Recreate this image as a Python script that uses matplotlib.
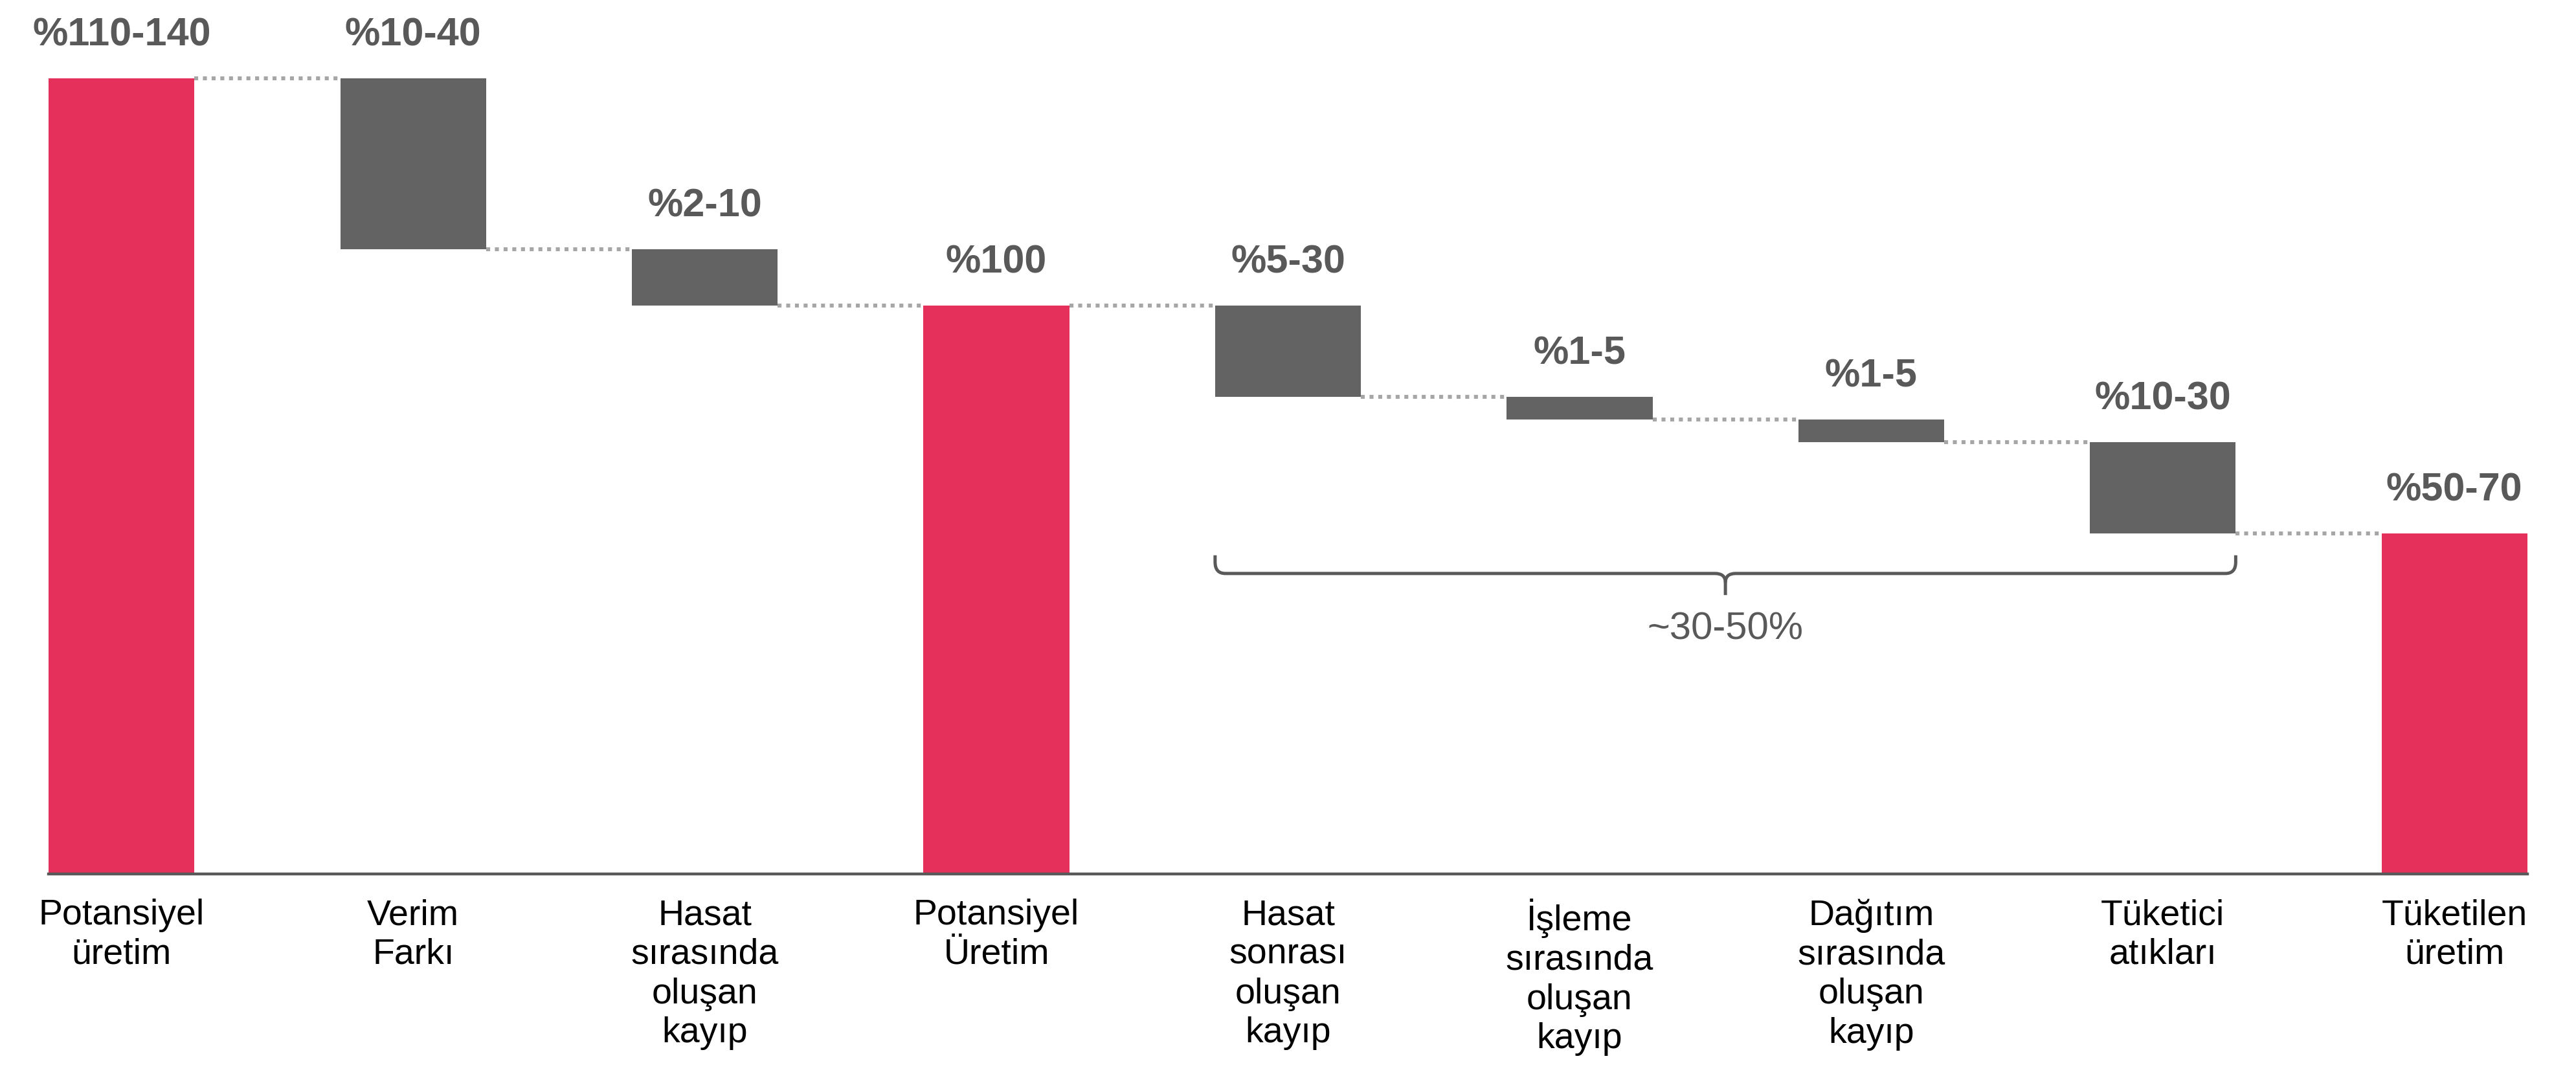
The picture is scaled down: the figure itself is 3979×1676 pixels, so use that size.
import matplotlib
matplotlib.use("Agg")
import matplotlib.pyplot as plt
from matplotlib.path import Path
from matplotlib.patches import PathPatch

plt.rcParams["font.family"] = ["Liberation Sans", "DejaVu Sans"]

RED = "#E5305C"
GRAY_BAR = "#636363"
TEXT_GRAY = "#595959"
DOT_GRAY = "#A6A6A6"

categories = [
    "Potansiyel\nüretim",
    "Verim\nFarkı",
    "Hasat\nsırasında\noluşan\nkayıp",
    "Potansiyel\nÜretim",
    "Hasat\nsonrası\noluşan\nkayıp",
    "İşleme\nsırasında\noluşan\nkayıp",
    "Dağıtım\nsırasında\noluşan\nkayıp",
    "Tüketici\natıkları",
    "Tüketilen\nüretim",
]
changes = [140, -30, -10, 100, -16, -4, -4, -16, 60]
is_total = [True, False, False, True, False, False, False, False, True]
value_labels = ["%110-140", "%10-40", "%2-10", "%100", "%5-30", "%1-5", "%1-5", "%10-30", "%50-70"]
brace_label = "~30-50%"
brace_span = (4, 7)  # first and last bar covered by the brace

fig = plt.figure(figsize=(19.895, 8.38), dpi=200)
ax = fig.add_axes([0, 0, 1, 1])
ax.set_xlim(-0.417, 8.417)
ax.set_ylim(-37.1, 153.8)
ax.axis("off")

width = 0.5
running = 0
levels = []
for i, (val, total) in enumerate(zip(changes, is_total)):
    if total:
        bottom, height = 0, val
        running = val
        color = RED
    else:
        bottom, height = running + val, -val
        running += val
        color = GRAY_BAR
    top = bottom + height
    ax.bar(i, height, bottom=bottom, width=width, color=color, edgecolor="none", zorder=2)
    ax.text(i, top + 7.5, value_labels[i], ha="center", va="center",
            fontsize=22, fontweight="bold", color=TEXT_GRAY)
    ax.text(i, -4.3, categories[i], ha="center", va="top", fontsize=20,
            color="black", linespacing=1.22)
    levels.append(running)

# dotted connectors between consecutive bars
for i in range(len(changes) - 1):
    ax.plot([i + width / 2, i + 1 - width / 2], [levels[i], levels[i]],
            color=DOT_GRAY, lw=2.2, linestyle=(0, (1, 1.2)), zorder=1)

# baseline
ax.plot([-width / 2, len(changes) - 1 + width / 2], [0, 0], color=TEXT_GRAY, lw=1.6, zorder=3)

# brace under the post-harvest losses
x0 = brace_span[0] - width / 2
x1 = brace_span[1] + width / 2
xm = (x0 + x1) / 2
y_top, y_mid, y_tip = 56.1, 52.9, 49.1
rx, ry = 0.035, 2.0
verts = [
    (x0, y_top), (x0, y_mid + ry), (x0, y_mid), (x0 + rx, y_mid),
    (xm - rx, y_mid), (xm, y_mid), (xm, y_mid - ry * 0.8), (xm, y_tip),
]
codes = [Path.MOVETO, Path.LINETO, Path.CURVE3, Path.CURVE3,
         Path.LINETO, Path.CURVE3, Path.CURVE3, Path.LINETO]
verts_r = [
    (x1, y_top), (x1, y_mid + ry), (x1, y_mid), (x1 - rx, y_mid),
    (xm + rx, y_mid), (xm, y_mid), (xm, y_mid - ry * 0.8),
]
codes_r = [Path.MOVETO, Path.LINETO, Path.CURVE3, Path.CURVE3,
           Path.LINETO, Path.CURVE3, Path.CURVE3]
for v, c in [(verts, codes), (verts_r, codes_r)]:
    ax.add_patch(PathPatch(Path(v, c), facecolor="none", edgecolor=TEXT_GRAY, lw=1.8))
ax.text(xm, 43.1, brace_label, ha="center", va="center", fontsize=21.5, color=TEXT_GRAY)

fig.savefig("out.png", dpi=200, facecolor="white")
